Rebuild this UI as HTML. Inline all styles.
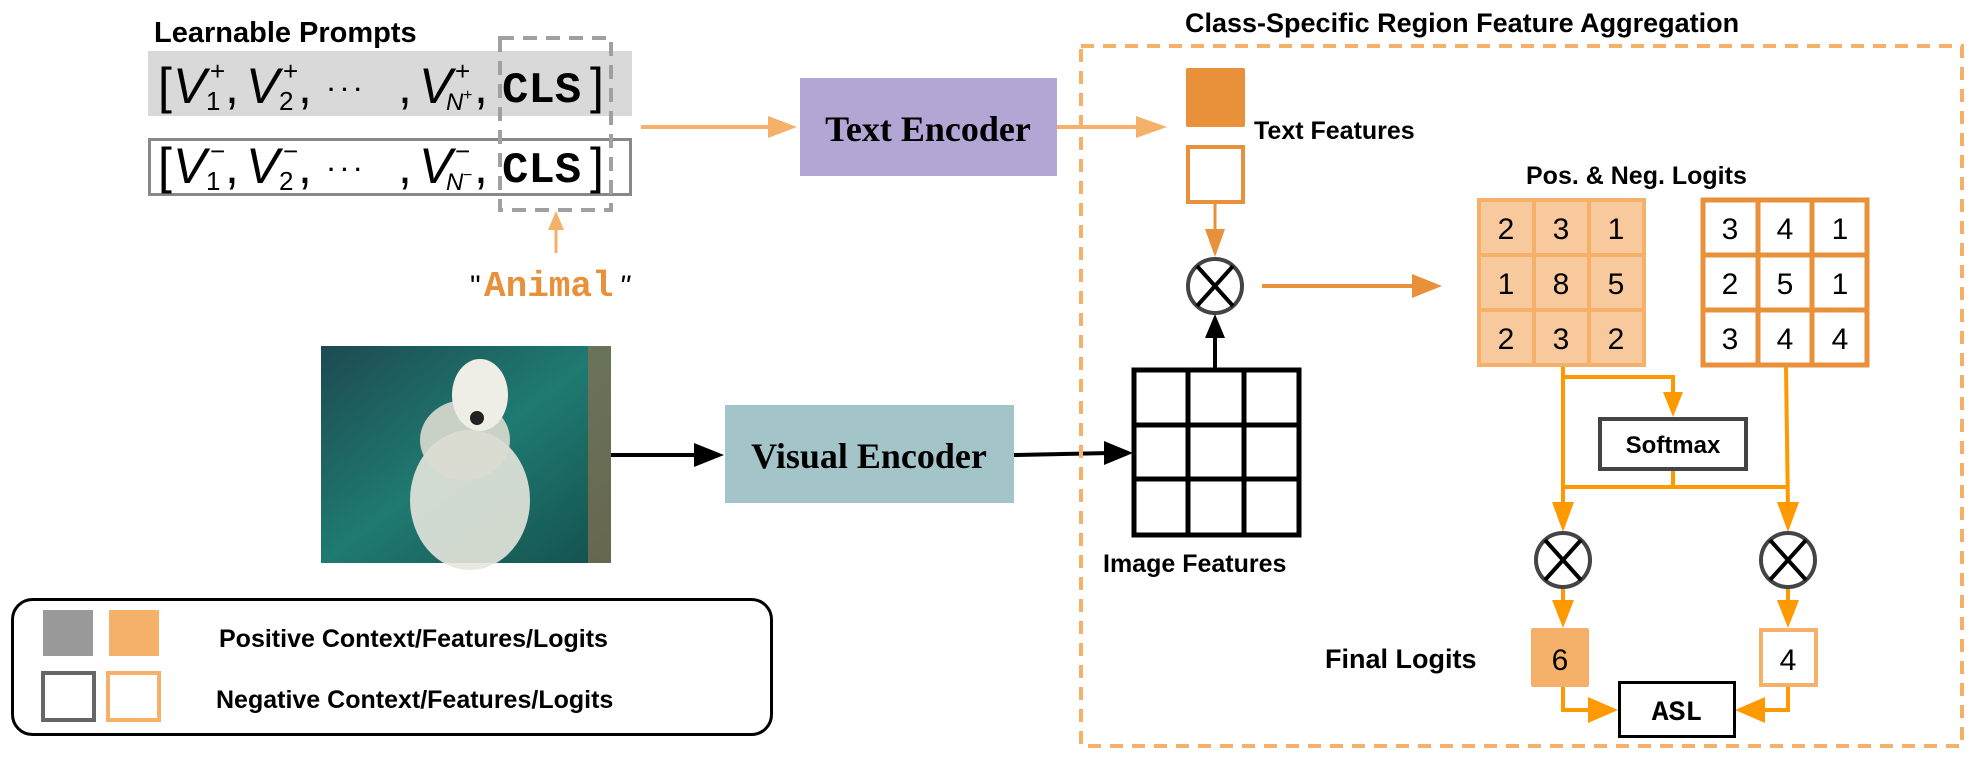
<!DOCTYPE html>
<html><head><meta charset="utf-8"><style>
html,body{margin:0;padding:0;background:#fff;}
svg{display:block;}
.b{font-family:"Liberation Sans",sans-serif;font-weight:bold;}
.s{font-family:"Liberation Serif",serif;font-weight:bold;}
.m{font-family:"Liberation Mono",monospace;font-weight:bold;}
.i{font-family:"Liberation Sans",sans-serif;font-style:italic;}
.n{font-family:"Liberation Sans",sans-serif;}
</style></head><body>
<svg width="1977" height="761" viewBox="0 0 1977 761" xmlns="http://www.w3.org/2000/svg">
<defs>
<linearGradient id="w" x1="0" y1="0" x2="1" y2="1"><stop offset="0" stop-color="#1d4a52"/><stop offset="0.5" stop-color="#1f7a72"/><stop offset="1" stop-color="#14504c"/></linearGradient>
</defs>
<text x="154" y="42" class="b" font-size="29">Learnable Prompts</text>
<rect x="148" y="51" width="484" height="65" fill="#d9d9d9"/>
<rect x="149.5" y="139.5" width="481" height="55" fill="#fff" stroke="#888" stroke-width="3"/>
<g font-size="50">
<text x="158" y="103" class="n">[</text>
<text x="173" y="103" class="i">V</text><text x="210" y="80" class="n" font-size="26">+</text><text x="206" y="110" class="n" font-size="26">1</text><text x="225" y="103" class="n">,</text>
<text x="246" y="103" class="i">V</text><text x="283" y="80" class="n" font-size="26">+</text><text x="279" y="110" class="n" font-size="26">2</text><text x="298" y="103" class="n">,</text>
<text x="328" y="97" class="b" font-size="22" letter-spacing="6">···</text><text x="398" y="103" class="n">,</text>
<text x="419" y="103" class="i">V</text><text x="455" y="80" class="n" font-size="26">+</text><text x="446" y="110" class="i" font-size="24">N</text><text x="463" y="100" class="n" font-size="16">+</text><text x="474" y="103" class="n">,</text>
<text x="502" y="102" class="m" font-size="44">CLS</text><text x="590" y="103" class="n">]</text>
</g>
<g font-size="50">
<text x="158" y="183" class="n">[</text>
<text x="173" y="183" class="i">V</text><text x="210" y="160" class="n" font-size="26">−</text><text x="206" y="190" class="n" font-size="26">1</text><text x="225" y="183" class="n">,</text>
<text x="246" y="183" class="i">V</text><text x="283" y="160" class="n" font-size="26">−</text><text x="279" y="190" class="n" font-size="26">2</text><text x="298" y="183" class="n">,</text>
<text x="328" y="177" class="b" font-size="22" letter-spacing="6">···</text><text x="398" y="183" class="n">,</text>
<text x="419" y="183" class="i">V</text><text x="455" y="160" class="n" font-size="26">−</text><text x="446" y="190" class="i" font-size="24">N</text><text x="463" y="180" class="n" font-size="16">−</text><text x="474" y="183" class="n">,</text>
<text x="502" y="182" class="m" font-size="44">CLS</text><text x="590" y="183" class="n">]</text>
</g>
<rect x="500" y="38" width="111" height="172" fill="none" stroke="#a0a0a0" stroke-width="4" stroke-dasharray="14,9"/>
<line x1="556" y1="253" x2="556" y2="228" stroke="#f5b06a" stroke-width="3"/>
<polygon points="548,230 564,230 556,211" fill="#f5b06a"/>
<text x="470" y="296" class="n" font-size="30">"</text>
<text x="484" y="296" class="m" font-size="36" fill="#e8913a">Animal</text>
<text x="619" y="296" class="n" font-size="30" font-style="italic">"</text>
<line x1="641" y1="127" x2="772" y2="127" stroke="#f5b06a" stroke-width="4"/>
<polygon points="768,116 797,127 768,138" fill="#f5b06a"/>
<rect x="800" y="78" width="257" height="98" fill="#b3a5d4"/>
<text x="928" y="141" class="s" font-size="36" text-anchor="middle">Text Encoder</text>
<rect x="321" y="346" width="290" height="217" fill="url(#w)"/>
<rect x="588" y="346" width="23" height="217" fill="#8a7050" opacity="0.7"/>
<ellipse cx="470" cy="500" rx="60" ry="70" fill="#e6e6dc" opacity="0.9"/>
<ellipse cx="465" cy="440" rx="45" ry="40" fill="#dcdcd0" opacity="0.9"/>
<ellipse cx="480" cy="395" rx="28" ry="36" fill="#eeeee6"/>
<circle cx="477" cy="418" r="7" fill="#222"/>
<line x1="611" y1="455" x2="700" y2="455" stroke="#000" stroke-width="4"/>
<polygon points="694,443 724,455 694,467" fill="#000"/>
<rect x="725" y="405" width="289" height="98" fill="#a3c4c8"/>
<text x="869" y="468" class="s" font-size="36" text-anchor="middle">Visual Encoder</text>
<line x1="1014" y1="455" x2="1110" y2="453" stroke="#000" stroke-width="4"/>
<polygon points="1104,441 1133,453 1104,465" fill="#000"/>
<rect x="12.5" y="599.5" width="759" height="135" rx="20" fill="#fff" stroke="#000" stroke-width="3"/>
<rect x="43" y="610" width="50" height="46" fill="#999"/>
<rect x="109" y="610" width="50" height="46" fill="#f5b06a"/>
<rect x="43" y="673" width="51" height="47" fill="none" stroke="#666" stroke-width="4"/>
<rect x="108" y="673" width="51" height="47" fill="none" stroke="#f5b06a" stroke-width="4"/>
<text x="219" y="647" class="b" font-size="25">Positive Context/Features/Logits</text>
<text x="216" y="708" class="b" font-size="25">Negative Context/Features/Logits</text>
<text x="1185" y="32" class="b" font-size="27">Class-Specific Region Feature Aggregation</text>
<rect x="1081" y="46" width="881" height="700" fill="none" stroke="#f5b06a" stroke-width="4" stroke-dasharray="13,9"/>
<line x1="1057" y1="127" x2="1140" y2="127" stroke="#f5b06a" stroke-width="4"/>
<polygon points="1136,116 1167,127 1136,138" fill="#f5b06a"/>
<rect x="1186" y="68" width="59" height="59" rx="2" fill="#e8913a"/>
<text x="1254" y="139" class="b" font-size="25">Text Features</text>
<rect x="1188" y="147" width="55" height="55" fill="#fff" stroke="#e8913a" stroke-width="4"/>
<line x1="1215" y1="203" x2="1215" y2="235" stroke="#e8913a" stroke-width="3"/>
<polygon points="1205,229 1225,229 1215,257" fill="#e8913a"/>
<g stroke-width="4">
<circle cx="1215" cy="286" r="27" fill="#fff" stroke="#444"/>
<line x1="1197" y1="266" x2="1233" y2="306" stroke="#000"/><line x1="1233" y1="266" x2="1197" y2="306" stroke="#000"/>
</g>
<line x1="1215" y1="368" x2="1215" y2="335" stroke="#000" stroke-width="4"/>
<polygon points="1205,338 1225,338 1215,314" fill="#000"/>
<line x1="1262" y1="286" x2="1415" y2="286" stroke="#e8913a" stroke-width="4"/>
<polygon points="1412,274 1442,286 1412,298" fill="#e8913a"/>
<g stroke="#000" stroke-width="5" fill="none">
<rect x="1134" y="370" width="165" height="165" fill="#fff"/>
<line x1="1188" y1="370" x2="1188" y2="535"/><line x1="1244" y1="370" x2="1244" y2="535"/>
<line x1="1134" y1="425" x2="1299" y2="425"/><line x1="1134" y1="479" x2="1299" y2="479"/>
</g>
<text x="1103" y="572" class="b" font-size="25">Image Features</text>
<text x="1526" y="184" class="b" font-size="25">Pos. &amp; Neg. Logits</text>
<g stroke="#f5b06a" stroke-width="4">
<rect x="1479" y="200" width="165" height="165" fill="#f8c99c"/>
<line x1="1534" y1="200" x2="1534" y2="365"/><line x1="1589" y1="200" x2="1589" y2="365"/>
<line x1="1479" y1="255" x2="1644" y2="255"/><line x1="1479" y1="310" x2="1644" y2="310"/>
</g>
<g stroke="#e8913a" stroke-width="5">
<rect x="1703" y="200" width="164" height="165" fill="#fff"/>
<line x1="1758" y1="200" x2="1758" y2="365"/><line x1="1812" y1="200" x2="1812" y2="365"/>
<line x1="1703" y1="255" x2="1867" y2="255"/><line x1="1703" y1="310" x2="1867" y2="310"/>
</g>
<g class="n" font-size="30" text-anchor="middle">
<text x="1506" y="239">2</text><text x="1561" y="239">3</text><text x="1616" y="239">1</text>
<text x="1506" y="294">1</text><text x="1561" y="294">8</text><text x="1616" y="294">5</text>
<text x="1506" y="349">2</text><text x="1561" y="349">3</text><text x="1616" y="349">2</text>
<text x="1730" y="239">3</text><text x="1785" y="239">4</text><text x="1840" y="239">1</text>
<text x="1730" y="294">2</text><text x="1785" y="294">5</text><text x="1840" y="294">1</text>
<text x="1730" y="349">3</text><text x="1785" y="349">4</text><text x="1840" y="349">4</text>
</g>
<g stroke="#ff9900" stroke-width="4" fill="none">
<polyline points="1563,367 1563,510"/>
<polyline points="1563,377 1673,377 1673,398"/>
<polyline points="1673,470 1673,487"/>
<polyline points="1563,487 1788,487"/>
<polyline points="1786,367 1788,510"/>
<polyline points="1563,588 1563,605"/>
<polyline points="1788,588 1788,605"/>
<polyline points="1563,687 1563,710 1592,710"/>
<polyline points="1788,687 1788,710 1760,710"/>
</g>
<g fill="#ff9900">
<polygon points="1663,392 1683,392 1673,417"/>
<polygon points="1552,502 1574,502 1563,532"/>
<polygon points="1777,502 1799,502 1788,532"/>
<polygon points="1552,600 1574,600 1563,628"/>
<polygon points="1777,600 1799,600 1788,628"/>
<polygon points="1588,697 1618,710 1588,723"/>
<polygon points="1765,697 1735,710 1765,723"/>
</g>
<rect x="1600" y="419" width="146" height="50" fill="#fff" stroke="#444" stroke-width="4"/>
<text x="1673" y="453" class="b" font-size="24" text-anchor="middle">Softmax</text>
<g stroke-width="4">
<circle cx="1563" cy="560" r="27" fill="#fff" stroke="#444"/>
<line x1="1545" y1="540" x2="1581" y2="580" stroke="#000"/><line x1="1581" y1="540" x2="1545" y2="580" stroke="#000"/>
<circle cx="1788" cy="560" r="27" fill="#fff" stroke="#444"/>
<line x1="1770" y1="540" x2="1806" y2="580" stroke="#000"/><line x1="1806" y1="540" x2="1770" y2="580" stroke="#000"/>
</g>
<text x="1325" y="668" class="b" font-size="27">Final Logits</text>
<rect x="1531" y="628" width="58" height="59" rx="2" fill="#f5b06a"/>
<rect x="1761" y="630" width="55" height="55" fill="#fff" stroke="#f5b06a" stroke-width="4"/>
<text x="1560" y="670" class="n" font-size="30" text-anchor="middle">6</text>
<text x="1788" y="670" class="n" font-size="30" text-anchor="middle">4</text>
<rect x="1619.5" y="682.5" width="115" height="54" fill="#fff" stroke="#000" stroke-width="3"/>
<text x="1677" y="720" class="m" font-size="28" text-anchor="middle">ASL</text>
</svg>
</body></html>
